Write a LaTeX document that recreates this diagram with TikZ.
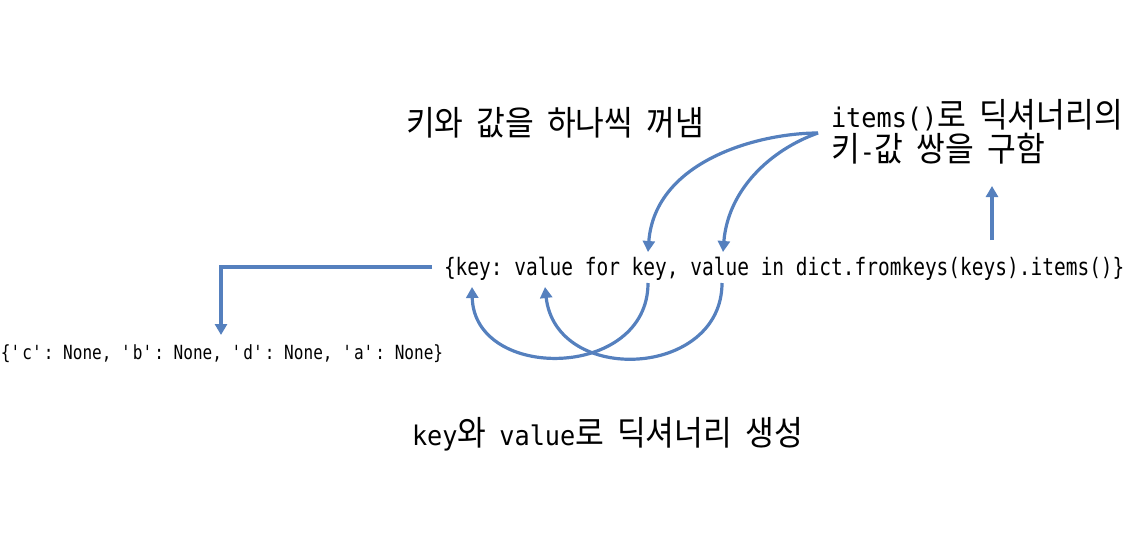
\documentclass[tikz,border=0pt]{standalone}
\usepackage{fontspec}
\usetikzlibrary{arrows.meta}
\newfontfamily\krfont{Noto Sans CJK KR}[FakeStretch=0.92]
\newfontfamily\codefont{DejaVu Sans Mono}[FakeStretch=0.812]
\newfontfamily\resfont{DejaVu Sans Mono}[FakeStretch=0.824]
\newfontfamily\lblmono{DejaVu Sans Mono}[FakeStretch=0.935]
\definecolor{arrowblue}{HTML}{5580BE}
\newcommand\kt[1]{{\krfont\fontsize{34}{40}\selectfont #1}}
\newcommand\lm[1]{{\lblmono\fontsize{27}{32}\selectfont #1}}
\newcommand\sq{\textquotesingle}
\frenchspacing
\begin{document}
\begin{tikzpicture}[x=1pt,y=-1pt,
  every node/.style={inner sep=0pt, outer sep=0pt, anchor=base west},
  lbl/.style={font={\frenchspacing\spaceskip=13pt\relax}},
  arr/.style={draw=arrowblue, line width=3.2pt, -{Triangle[width=12pt,length=11pt]}}]
\useasboundingbox (0,0) rectangle (1148,538);
\node[lbl] (take) at (406,135) {\kt{키와 값을 하나씩 꺼냄}};
\node[lbl] (items1) at (831,127) {\lm{items()}\kt{로 딕셔너리의}};
\node[lbl] (items2) at (831,161) {\kt{키}\lm{-}\kt{값 쌍을 구함}};
\node[font=\frenchspacing] (code) at (444,275) {\codefont\fontsize{24}{28}\selectfont \{key: value for key, value in dict.fromkeys(keys).items()\}};
\node[font=\frenchspacing] (res) at (1,359) {\resfont\fontsize{19.5}{24}\selectfont \{\sq c\sq: None, \sq b\sq: None, \sq d\sq: None, \sq a\sq: None\}};
\node[lbl] (make) at (412,445) {\lm{key}\kt{와} \lm{value}\kt{로 딕셔너리 생성}};
\coordinate (src) at (818,133);
\coordinate (keyin) at (648,252);
\coordinate (valin) at (723,252);
\coordinate (keyout) at (648,283);
\coordinate (valout) at (722,283);
\coordinate (keyhead) at (472,287);
\coordinate (valhead) at (545,287);
\coordinate (codel) at (432,267);
\coordinate (bend) at (221,267);
\coordinate (restop) at (221,335);
\coordinate (itemsfrom) at (992,240);
\coordinate (itemsto) at (992,186);
\draw[arr] (src) .. controls (760,133) and (655,160) .. (keyin);
\draw[arr] (src) .. controls (770,150) and (728,190) .. (valin);
\draw[arr] (keyout) .. controls (648,380) and (474,382) .. (keyhead);
\draw[arr] (valout) .. controls (722,378) and (556,386) .. (valhead);
\draw[arr] (codel) -- (bend) -- (restop);
\draw[arr] (itemsfrom) -- (itemsto);
\end{tikzpicture}
\end{document}
